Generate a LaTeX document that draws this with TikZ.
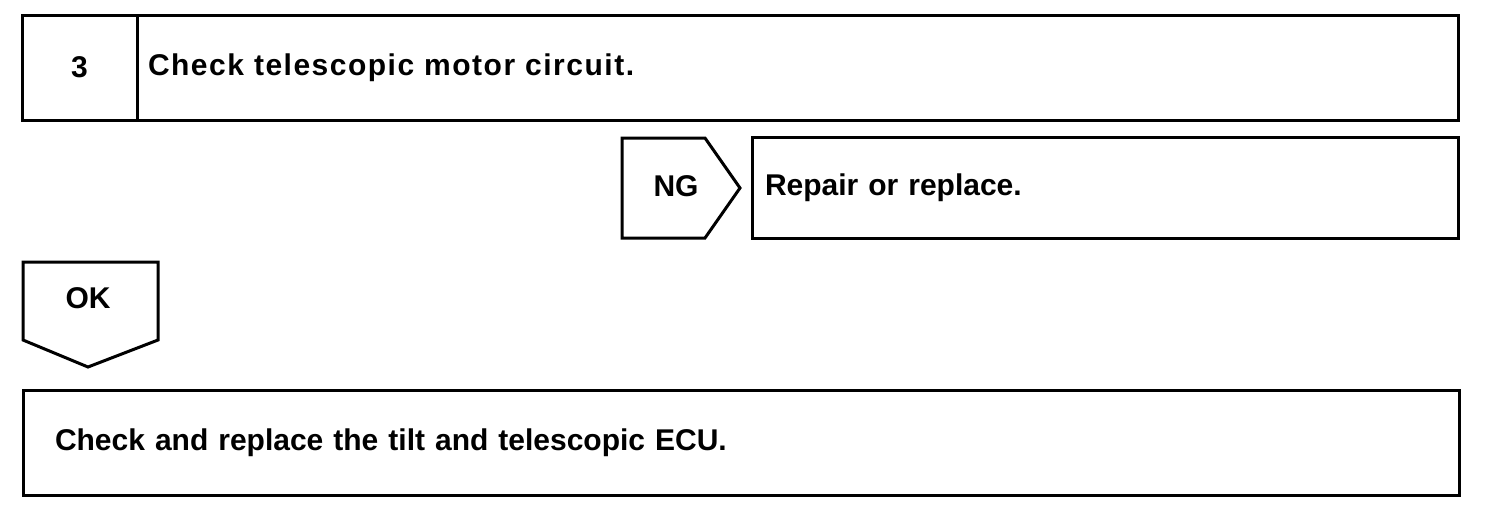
\documentclass[tikz,border=0pt]{standalone}
\usepackage{fontspec}
\setmainfont{Liberation Sans}
\usepackage{tikz}
\usetikzlibrary{positioning}

\begin{document}
\begin{tikzpicture}[x=0.5pt, y=-0.5pt, line width=1.5pt,
  lbl/.style={font=\bfseries\fontsize{15}{18}\selectfont, inner sep=0pt},
  cell/.style={draw, rectangle, lbl, outer sep=0pt, align=left}]
\useasboundingbox (0,0) rectangle (1504,516);

% step header
\node[cell, minimum width=57.5pt, minimum height=52.5pt, align=center] (num) at (79.5,67.5) {3};
\node[cell, anchor=west, minimum width=660.5pt, minimum height=52.5pt, text width=649.5pt] (title) at (num.east) {\addfontfeatures{LetterSpace=5}Check telescopic motor circuit.};

% NG branch
\draw (622,138) -- (705,138) -- (740,188) -- (705,238) -- (622,238) -- cycle;
\node[lbl] (ng) at (676,186) {NG};
\node[cell, minimum width=353pt, minimum height=50.5pt, text width=340pt] (repair) at (1105,187.5) {Repair or replace.};

% OK branch
\draw (23,262) -- (158,262) -- (158,340) -- (88,367) -- (23,340) -- cycle;
\node[lbl] (ok) at (88,298) {OK};
\node[cell, minimum width=718pt, minimum height=52.5pt, text width=686pt] (ecu) at (741,442.5) {Check and replace the tilt and telescopic ECU.};
\end{tikzpicture}
\end{document}
